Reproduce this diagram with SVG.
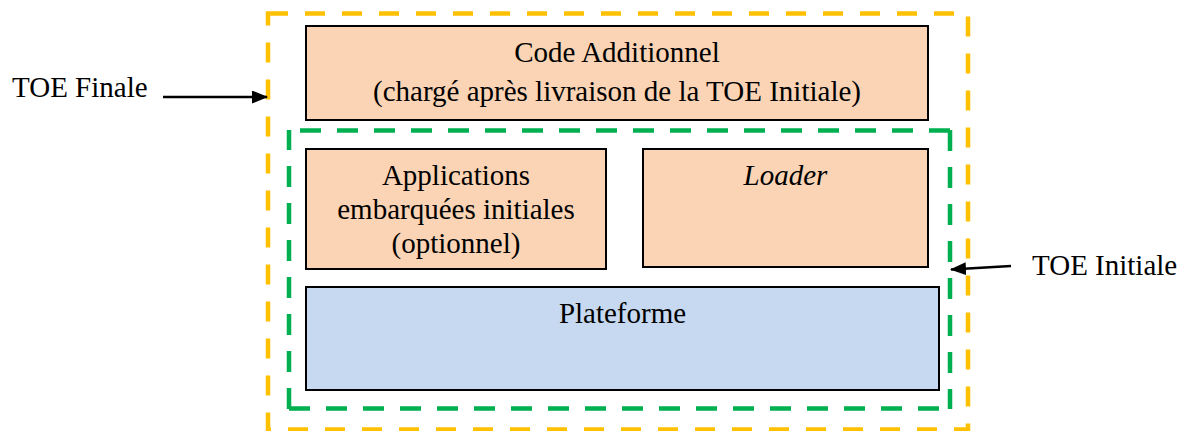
<svg xmlns="http://www.w3.org/2000/svg" width="1184" height="431" viewBox="0 0 1184 431" font-family="Liberation Serif, Times New Roman, serif" font-size="29">
  <style>
    .mid { text-anchor: middle; }
    .box { stroke: #000; stroke-width: 2; }
    .peach { fill: #FAD4B4; }
    .blue { fill: #C6D9F0; }
    .zone { fill: none; stroke-width: 4.5; }
    .arrow { stroke: #000; stroke-width: 2.5; fill: none; }
  </style>
  <defs>
    <marker id="head" viewBox="0 0 16 13" refX="15" refY="6.5" markerWidth="16" markerHeight="13" markerUnits="userSpaceOnUse" orient="auto">
      <path d="M0,0 L16,6.5 L0,13 Z" fill="#000"/>
    </marker>
  </defs>
  <rect width="1184" height="431" fill="#fff"/>

  <!-- outer zone: final TOE -->
  <g id="toe-finale">
    <rect class="zone" x="268" y="13.5" width="700" height="416" stroke="#FFC000" stroke-dasharray="20 17"/>
  </g>

  <!-- inner zone: initial TOE -->
  <g id="toe-initiale">
    <path class="zone" d="M950,130 L950,409 M289,409 L289,130" stroke="#00B050" stroke-dasharray="21 16"/>
    <path class="zone" d="M950,130.5 L289,130.5 M289,408.5 L950,408.5" stroke="#00B050" stroke-dasharray="21 16"/>
  </g>

  <g id="code-additionnel">
    <rect class="box peach" x="306" y="26" width="622" height="94"/>
    <text class="mid" x="617" y="62">Code Additionnel</text>
    <text class="mid" x="617" y="101">(chargé après livraison de la TOE Initiale)</text>
  </g>

  <g id="applications">
    <rect class="box peach" x="306" y="149" width="300" height="120"/>
    <text class="mid" x="456" y="185">Applications</text>
    <text class="mid" x="456" y="219">embarquées initiales</text>
    <text class="mid" x="456" y="253">(optionnel)</text>
  </g>

  <g id="loader">
    <rect class="box peach" x="643" y="149" width="285" height="118"/>
    <text class="mid" x="785.5" y="185" font-style="italic">Loader</text>
  </g>

  <g id="plateforme">
    <rect class="box blue" x="306" y="287" width="633" height="103"/>
    <text class="mid" x="622.5" y="323">Plateforme</text>
  </g>

  <g id="label-finale">
    <text x="12" y="97">TOE Finale</text>
  </g>
  <g id="label-initiale">
    <text x="1032" y="275">TOE Initiale</text>
  </g>

  <!-- pointers from the side labels to the zones -->
  <g id="connectors">
    <line class="arrow" x1="163" y1="97" x2="267" y2="97" marker-end="url(#head)"/>
    <line class="arrow" x1="1011" y1="266" x2="951" y2="269.5" marker-end="url(#head)"/>
  </g>
</svg>
